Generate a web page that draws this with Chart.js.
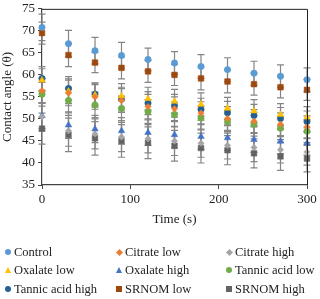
<!DOCTYPE html>
<html lang="en">
<head>
  <meta charset="UTF-8">
  <title>Contact angle vs time</title>
  <script src="https://cdn.jsdelivr.net/npm/chart.js"></script>
  <style>
    body { margin: 0; background: #fff; }
    #wrap { position: relative; width: 320px; height: 299px; }
    .leg { position: absolute; font: 12.5px "Liberation Serif", "Times New Roman", serif; color: #222; white-space: nowrap; line-height: 14px; }
    .mk { position: absolute; }
  </style>
</head>
<body>
  <div id="wrap">
    <canvas id="angleChart" width="320" height="299"></canvas>
    <div id="legend"></div>
  </div>

  <script>
    // time points (s)
    const times = [0, 30, 60, 90, 120, 150, 180, 210, 240, 270, 300];

    // contact angle per series
    const control     = [70.8, 67.1, 65.5, 64.4, 63.5, 62.7, 61.9, 61.2, 60.4, 59.7, 58.9];
    const citrateLow  = [56.4, 55.9, 55.0, 54.2, 52.8, 52.3, 51.3, 50.1, 49.5, 48.8, 48.2];
    const citrateHigh = [50.5, 47.3, 46.6, 45.9, 45.5, 45.0, 44.5, 44.0, 43.5, 43.0, 42.5];
    const oxalateLow  = [58.8, 56.3, 55.4, 55.2, 54.6, 54.0, 53.3, 52.4, 51.8, 51.0, 50.4];
    const oxalateHigh = [50.7, 48.6, 47.7, 47.3, 46.9, 46.4, 46.0, 45.7, 45.3, 44.9, 44.5];
    const tannicLow   = [55.6, 54.2, 53.2, 52.4, 51.7, 51.0, 50.2, 49.4, 48.8, 47.9, 47.2];
    const tannicHigh  = [59.2, 56.9, 55.6, 54.5, 53.6, 53.0, 52.2, 51.4, 50.8, 50.1, 49.4];
    const srnomLow    = [69.5, 64.5, 62.8, 61.6, 60.8, 60.0, 59.2, 58.5, 57.9, 57.2, 56.6];
    const srnomHigh   = [47.8, 46.4, 45.6, 45.0, 44.6, 43.9, 43.4, 42.9, 42.2, 41.5, 41.0];

    // error bar half-lengths
    const controlErr     = [3.0, 3.0, 3.0, 3.0, 2.6, 2.6, 2.7, 2.7, 2.7, 2.6, 2.7];
    const citrateLowErr  = [2.8, 2.9, 2.8, 2.7, 2.8, 2.7, 2.6, 2.7, 2.6, 2.6, 2.5];
    const citrateHighErr = [3.2, 3.5, 3.4, 3.3, 3.2, 3.3, 3.2, 3.1, 3.2, 3.0, 3.0];
    const oxalateLowErr  = [2.6, 2.8, 2.7, 2.8, 2.6, 2.7, 2.6, 2.5, 2.6, 2.5, 2.4];
    const oxalateHighErr = [2.9, 3.0, 3.1, 3.0, 2.9, 3.0, 2.9, 2.8, 2.9, 2.8, 2.7];
    const tannicLowErr   = [2.7, 2.8, 2.9, 2.8, 2.7, 2.8, 2.7, 2.6, 2.7, 2.6, 2.6];
    const tannicHighErr  = [2.7, 2.7, 2.6, 2.7, 2.6, 2.6, 2.5, 2.6, 2.5, 2.5, 2.4];
    const srnomLowErr    = [2.5, 2.6, 2.3, 2.5, 2.5, 2.4, 2.6, 2.6, 2.5, 2.4, 2.4];
    const srnomHighErr   = [3.5, 3.8, 3.8, 3.7, 3.6, 3.5, 3.4, 3.3, 3.3, 3.2, 3.0];

    const yTicks = [35, 40, 45, 50, 55, 60, 65, 70, 75];
    const xTicks = [0, 100, 200, 300];

    const series = [
      { label: "Control",          data: control,     err: controlErr,     color: "#5B9BD5", shape: "circle",   r: 3.2 },
      { label: "Citrate low",      data: citrateLow,  err: citrateLowErr,  color: "#ED7D31", shape: "rectRot",  r: 3.2 },
      { label: "Citrate high",     data: citrateHigh, err: citrateHighErr, color: "#A5A5A5", shape: "rectRot",  r: 3.2 },
      { label: "Oxalate low",      data: oxalateLow,  err: oxalateLowErr,  color: "#FFC000", shape: "triangle", r: 3.8 },
      { label: "Oxalate high",     data: oxalateHigh, err: oxalateHighErr, color: "#4472C4", shape: "triangle", r: 3.8 },
      { label: "Tannic acid low",  data: tannicLow,   err: tannicLowErr,   color: "#70AD47", shape: "circle",   r: 3.2 },
      { label: "Tannic acid high", data: tannicHigh,  err: tannicHighErr,  color: "#255E91", shape: "circle",   r: 3.2 },
      { label: "SRNOM low",        data: srnomLow,    err: srnomLowErr,    color: "#9E480E", shape: "rect",     r: 4.0 },
      { label: "SRNOM high",       data: srnomHigh,   err: srnomHighErr,   color: "#636363", shape: "rect",     r: 4.0 }
    ];

    // draws vertical error bars with caps, using the chart scales
    const errorBars = {
      id: "errorBars",
      beforeDatasetsDraw(chart) {
        const ctx = chart.ctx;
        const xs = chart.scales.x, ys = chart.scales.y;
        ctx.save();
        ctx.strokeStyle = "#858585";
        ctx.lineWidth = 1.2;
        chart.data.datasets.forEach(ds => {
          ds.data.forEach((p, i) => {
            const e = ds.errors[i];
            const px = xs.getPixelForValue(p.x);
            const top = ys.getPixelForValue(p.y + e);
            const bot = ys.getPixelForValue(p.y - e);
            ctx.beginPath();
            ctx.moveTo(px, top); ctx.lineTo(px, bot);
            ctx.moveTo(px - 3.5, top); ctx.lineTo(px + 3.5, top);
            ctx.moveTo(px - 3.5, bot); ctx.lineTo(px + 3.5, bot);
            ctx.stroke();
          });
        });
        ctx.restore();
      }
    };

    // top and right frame lines
    const frame = {
      id: "frame",
      afterDraw(chart) {
        const a = chart.chartArea, ctx = chart.ctx;
        ctx.save();
        ctx.strokeStyle = "#222";
        ctx.lineWidth = 1;
        ctx.beginPath();
        ctx.moveTo(a.left, a.top + 0.5); ctx.lineTo(a.right + 0.5, a.top + 0.5);
        ctx.lineTo(a.right + 0.5, a.bottom);
        ctx.stroke();
        ctx.restore();
      }
    };

    const font = { family: "'Liberation Serif', 'Times New Roman', serif", size: 13 };
    const tickFont = { family: "'Liberation Serif', 'Times New Roman', serif", size: 13, lineHeight: 0.9 };

    new Chart(document.getElementById("angleChart"), {
      type: "scatter",
      data: {
        datasets: series.map(s => ({
          label: s.label,
          data: times.map((t, i) => ({ x: t, y: s.data[i] })),
          errors: s.err,
          pointStyle: s.shape,
          pointRadius: s.r,
          pointBackgroundColor: s.color,
          pointBorderColor: s.color,
          pointBorderWidth: 0.5,
          showLine: false,
          clip: false
        }))
      },
      options: {
        responsive: false,
        animation: false,
        layout: { padding: { top: 0, right: 13, bottom: 69, left: 0 } },
        plugins: { legend: { display: false }, tooltip: { enabled: false } },
        scales: {
          x: {
            type: "linear",
            min: 0, max: 300,
            afterBuildTicks: s => { s.ticks = xTicks.map(v => ({ value: v })); },
            afterFit: s => { s.height = 45; },
            ticks: { font: font, color: "#222", padding: 3, maxRotation: 0 },
            grid: { drawOnChartArea: false, color: "#444", tickLength: 4 },
            border: { color: "#444", width: 1.2 },
            title: { display: true, text: "Time (s)", font: font, color: "#222", padding: { top: 0, bottom: 3 } }
          },
          y: {
            min: 35, max: 75,
            afterBuildTicks: s => { s.ticks = yTicks.map(v => ({ value: v })); },
            afterFit: s => { s.width = 42; },
            ticks: { font: tickFont, color: "#222", padding: 3 },
            grid: { drawOnChartArea: false, color: "#444", tickLength: 4 },
            border: { color: "#444", width: 1.2 },
            title: { display: true, text: "Contact angle (θ)", font: font, color: "#222", padding: { top: 0, bottom: 2 } }
          }
        }
      },
      plugins: [errorBars, frame]
    });

    // HTML legend laid out in 3 columns like the original
    const colX = [8, 119, 229];
    const rowY = [252, 270, 289];
    const legend = document.getElementById("legend");
    series.forEach((s, i) => {
      const cx = colX[i % 3], cy = rowY[Math.floor(i / 3)];
      const mk = document.createElement("div");
      mk.className = "mk";
      if (s.shape === "circle") {
        mk.style.cssText = `left:${cx - 3}px;top:${cy - 3}px;width:6px;height:6px;border-radius:50%;background:${s.color}`;
      } else if (s.shape === "rectRot") {
        mk.style.cssText = `left:${cx - 2.5}px;top:${cy - 2.5}px;width:5px;height:5px;transform:rotate(45deg);background:${s.color}`;
      } else if (s.shape === "triangle") {
        mk.style.cssText = `left:${cx - 3.5}px;top:${cy - 3.5}px;width:0;height:0;border-left:3.5px solid transparent;border-right:3.5px solid transparent;border-bottom:6px solid ${s.color}`;
      } else {
        mk.style.cssText = `left:${cx - 3}px;top:${cy - 3}px;width:6px;height:6px;background:${s.color}`;
      }
      legend.appendChild(mk);
      const tx = document.createElement("div");
      tx.className = "leg";
      tx.style.left = (cx + 6) + "px";
      tx.style.top = (cy - 7) + "px";
      tx.textContent = s.label;
      legend.appendChild(tx);
    });
  </script>
</body>
</html>
